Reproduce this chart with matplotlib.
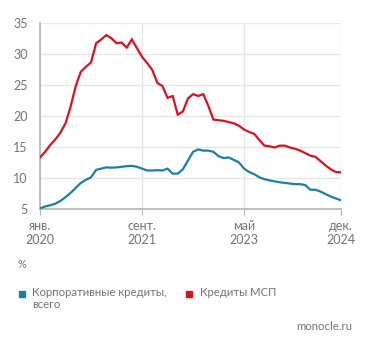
import matplotlib
matplotlib.use("Agg")
import matplotlib.pyplot as plt
from matplotlib.patches import Rectangle

plt.rcParams['font.family'] = ['Lato', 'DejaVu Sans']

# Monthly data, Jan 2020 .. Dec 2024
months = list(range(60))
corporate = [5.1, 5.4, 5.6, 5.85, 6.3, 6.9, 7.6, 8.4, 9.2, 9.7,
             10.1, 11.3, 11.5, 11.7, 11.65, 11.7, 11.8, 11.9, 11.95, 11.8,
             11.5, 11.2, 11.2, 11.25, 11.2, 11.5, 10.7, 10.7, 11.4, 12.8,
             14.2, 14.6, 14.4, 14.4, 14.2, 13.5, 13.2, 13.3, 12.9, 12.5,
             11.5, 10.95, 10.6, 10.1, 9.8, 9.6, 9.45, 9.3, 9.2, 9.1,
             9.0, 9.0, 8.85, 8.1, 8.1, 7.8, 7.4, 7.0, 6.7, 6.4]
sme = [13.3, 14.2, 15.3, 16.2, 17.3, 18.8, 21.5, 24.8, 27.1, 27.9,
       28.6, 31.7, 32.3, 33.0, 32.5, 31.7, 31.8, 31.0, 32.3, 30.9,
       29.5, 28.5, 27.4, 25.3, 24.8, 22.9, 23.2, 20.2, 20.7, 22.8,
       23.5, 23.2, 23.5, 21.6, 19.4, 19.3, 19.2, 19.0, 18.8, 18.4,
       17.8, 17.4, 17.1, 16.1, 15.2, 15.1, 14.9, 15.2, 15.2, 14.9,
       14.7, 14.4, 14.0, 13.6, 13.4, 12.7, 12.0, 11.4, 10.95, 10.9]
tick_pos = [0, 20, 40, 59]
tick_labels = ["янв.\n2020", "сент.\n2021", "май\n2023", "дек.\n2024"]
y_ticks = [5, 10, 15, 20, 25, 30, 35]
series_names = ["Корпоративные кредиты,\nвсего", "Кредиты МСП"]

BLUE = "#1a80a8"
RED = "#d8121f"
GREY_TXT = "#747474"
GRID = "#e6e6e6"

W, H = 371, 356
fig = plt.figure(figsize=(W / 100, H / 100), dpi=100)
ax = fig.add_axes([40 / W, 1 - 209 / H, 301 / W, (209 - 22.7) / H])

ax.plot(months, sme, color=RED, lw=1.6, solid_joinstyle='miter', zorder=3)
ax.plot(months, corporate, color=BLUE, lw=1.6, solid_joinstyle='miter', zorder=3)

ax.set_xlim(0, 59)
ax.set_ylim(5, 35)
ax.set_yticks(y_ticks)
ax.set_xticks(tick_pos)
ax.set_xticklabels(tick_labels, linespacing=1.2)
ax.grid(True, color=GRID, lw=1)
ax.set_axisbelow(True)
for s in ['top', 'right']:
    ax.spines[s].set_visible(False)
for s in ['left', 'bottom']:
    ax.spines[s].set_color("#b5b5b5")
    ax.spines[s].set_linewidth(1.2)
ax.tick_params(axis='y', length=0, pad=9, labelsize=9, labelcolor=GREY_TXT)
ax.tick_params(axis='x', length=4, color="#b5b5b5", pad=4, labelsize=9,
               labelcolor=GREY_TXT)

fig.text(18 / W, 1 - 265 / H, "%", fontsize=8, color=GREY_TXT, va='center')

# legend
fig.add_artist(Rectangle((19 / W, 1 - 297 / H), 6 / W, 6 / H,
                         transform=fig.transFigure, color=BLUE))
fig.text(32 / W, 1 - 287.5 / H, series_names[0], fontsize=8.2, color=GREY_TXT,
         va='top', linespacing=1.05)
fig.add_artist(Rectangle((186 / W, 1 - 297 / H), 6 / W, 6 / H,
                         transform=fig.transFigure, color=RED))
fig.text(200 / W, 1 - 287.5 / H, series_names[1], fontsize=8.2, color=GREY_TXT,
         va='top')

fig.text(352 / W, 1 - 327 / H, "monocle.ru", fontsize=8.2, color=GREY_TXT,
         ha='right', va='center')

fig.savefig("out.png", dpi=100)
